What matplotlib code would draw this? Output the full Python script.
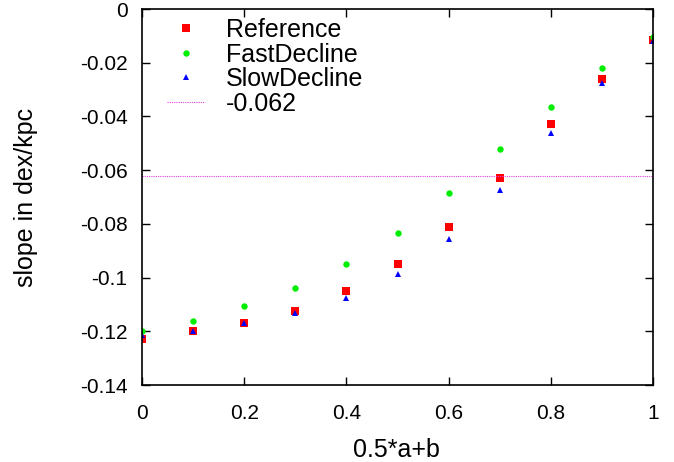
import matplotlib
matplotlib.use("Agg")
import matplotlib.pyplot as plt

x = [0.0, 0.1, 0.2, 0.3, 0.4, 0.5, 0.6, 0.7, 0.8, 0.9, 1.0]
reference = [-0.123, -0.120, -0.117, -0.1125, -0.105, -0.095, -0.081, -0.063, -0.043, -0.026, -0.0115]
fast_decline = [-0.120, -0.116, -0.1106, -0.104, -0.095, -0.0834, -0.0685, -0.052, -0.0365, -0.022, -0.0104]
slow_decline = [-0.1215, -0.120, -0.117, -0.1132, -0.1076, -0.0987, -0.0856, -0.0674, -0.0462, -0.0276, -0.0119]
threshold = -0.062
xticks = [0, 0.2, 0.4, 0.6, 0.8, 1]
xticklabels = ["0", "0.2", "0.4", "0.6", "0.8", "1"]
yticks = [-0.14, -0.12, -0.1, -0.08, -0.06, -0.04, -0.02, 0]
yticklabels = ["-0.14", "-0.12", "-0.1", "-0.08", "-0.06", "-0.04", "-0.02", "0"]

plt.rcParams['font.family'] = ['Liberation Sans', 'DejaVu Sans']
fig = plt.figure(figsize=(6.74, 4.62), dpi=100)
ax = fig.add_axes([142/674, 1-385/462, (653-142)/674, (385-9)/462])

ax.plot(x, reference, linestyle='none', marker='s', markersize=5.2, color='#ff0000', markeredgewidth=0, label='Reference')
ax.plot(x, fast_decline, linestyle='none', marker='o', markersize=4.6, color='#00ee00', markeredgewidth=0, label='FastDecline')
ax.plot(x, slow_decline, linestyle='none', marker='^', markersize=4.2, color='#0000ff', markeredgewidth=0, label='SlowDecline')
ax.axhline(threshold, color='#e040e0', linestyle=(0, (1, 1)), linewidth=0.8, label='-0.062')

ax.set_xlim(0, 1)
ax.set_ylim(-0.14, 0)
ax.set_xticks(xticks)
ax.set_xticklabels(xticklabels)
ax.set_yticks(yticks)
ax.set_yticklabels(yticklabels)
ax.tick_params(direction='in', length=6, width=1, top=True, right=True, labelsize=15)
ax.tick_params(axis='x', pad=14)
ax.tick_params(axis='y', pad=10.5)
for s in ax.spines.values():
    s.set_linewidth(1.2)
ax.set_xlabel('0.5*a+b', fontsize=18)
ax.set_ylabel('slope in dex/kpc', fontsize=18)
ax.xaxis.set_label_coords(0.498, -(438-385)/376)
ax.yaxis.set_label_coords((38-142)/511, 0.5)

leg = ax.legend(loc='upper left', bbox_to_anchor=(25/511, 1-9/376), frameon=False, fontsize=18,
                handlelength=1.5, handletextpad=0.85, labelspacing=0.02, borderaxespad=0, borderpad=0)

fig.savefig('out.png', dpi=100)
